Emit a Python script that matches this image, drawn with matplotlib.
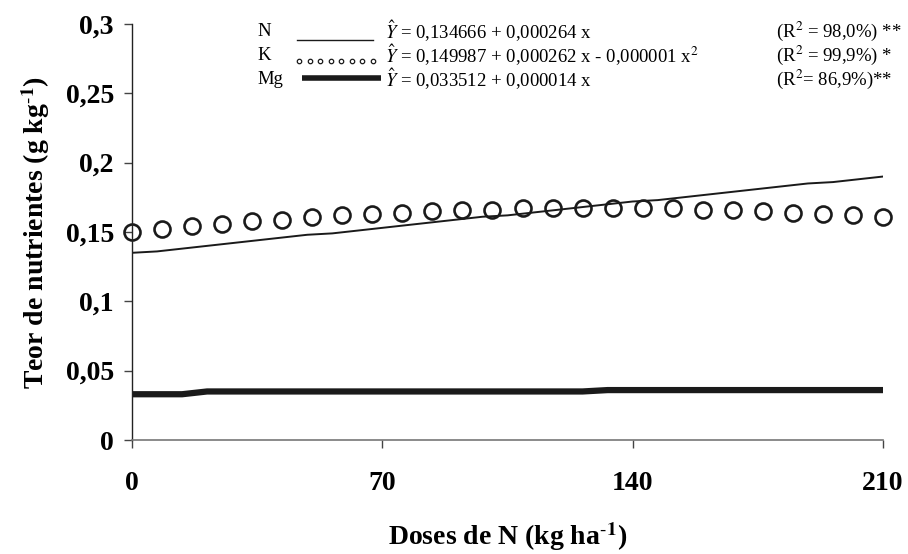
import matplotlib
matplotlib.use("Agg")
import matplotlib.pyplot as plt
from matplotlib.lines import Line2D

plt.rcParams['font.family'] = ['Liberation Serif', 'DejaVu Serif']
plt.rcParams['mathtext.fontset'] = 'stix'

# ---- data ----
n_x = [0, 7, 14, 21, 28, 35, 42, 49, 56, 63, 70, 77, 84, 91, 98, 105, 112, 119,
       126, 133, 140, 147, 154, 161, 168, 175, 182, 189, 196, 203, 210]
n_y = [0.135, 0.136, 0.138, 0.140, 0.142, 0.144, 0.146, 0.148, 0.149, 0.151, 0.153,
       0.155, 0.157, 0.159, 0.161, 0.162, 0.164, 0.166, 0.168, 0.170, 0.172, 0.173,
       0.175, 0.177, 0.179, 0.181, 0.183, 0.185, 0.186, 0.188, 0.190]

k_x = [0, 8.4, 16.8, 25.2, 33.6, 42, 50.4, 58.8, 67.2, 75.6, 84, 92.4, 100.8, 109.2,
       117.6, 126, 134.4, 142.8, 151.2, 159.6, 168, 176.4, 184.8, 193.2, 201.6, 210]
k_y = [0.150, 0.152, 0.154, 0.156, 0.158, 0.159, 0.161, 0.162, 0.163, 0.164, 0.165,
       0.166, 0.166, 0.167, 0.167, 0.167, 0.167, 0.167, 0.167, 0.166, 0.166, 0.165,
       0.164, 0.163, 0.162, 0.161]

mg_x = [0, 7, 14, 21, 28, 35, 42, 49, 56, 63, 70, 77, 84, 91, 98, 105, 112, 119,
        126, 133, 140, 147, 154, 161, 168, 175, 182, 189, 196, 203, 210]
mg_y = [0.033, 0.033, 0.033, 0.035, 0.035, 0.035, 0.035, 0.035, 0.035, 0.035, 0.035,
        0.035, 0.035, 0.035, 0.035, 0.035, 0.035, 0.035, 0.035, 0.036, 0.036, 0.036,
        0.036, 0.036, 0.036, 0.036, 0.036, 0.036, 0.036, 0.036, 0.036]

x_ticks = [0, 70, 140, 210]
x_ticklabels = ['0', '70', '140', '210']
y_ticks = [0, 0.05, 0.1, 0.15, 0.2, 0.25, 0.3]
y_ticklabels = ['0', '0,05', '0,1', '0,15', '0,2', '0,25', '0,3']

series_names = ['N', 'K', 'Mg']
equations = [r'$\hat{Y}$ = 0,134666 + 0,000264 x',
             r'$\hat{Y}$ = 0,149987 + 0,000262 x - 0,000001 x$^2$',
             r'$\hat{Y}$ = 0,033512 + 0,000014 x']
r2_texts = [r'(R$^2$ = 98,0%) **', r'(R$^2$ = 99,9%) *', r'(R$^2$= 86,9%)**']

xlabel = r'Doses de N (kg ha$^{\mathbf{\text{-}1}}$)'
ylabel = r'Teor de nutrientes (g kg$^{\mathbf{\text{-}1}}$)'

# ---- figure ----
W, H = 908, 554
fig = plt.figure(figsize=(W / 100, H / 100), dpi=100)
L, R, B, T = 132, 883, 440, 24
ax = fig.add_axes([L / W, 1 - B / H, (R - L) / W, (B - T) / H])

ink = '#1a1a1a'
ax.plot(n_x, n_y, color=ink, lw=1.4, solid_joinstyle='round')
ax.plot(k_x, k_y, linestyle='none', marker='o', markersize=11.5, markerfacecolor='none',
        markeredgecolor=ink, markeredgewidth=1.9, clip_on=False)
ax.plot(mg_x, mg_y, color=ink, lw=4.5, solid_capstyle='butt')

ax.set_xlim(0, 210)
ax.set_ylim(0, 0.3)
ax.spines['top'].set_visible(False)
ax.spines['right'].set_visible(False)
ax.spines['left'].set_color('#222222')
ax.spines['bottom'].set_color('#777777')
ax.spines['left'].set_linewidth(1.0)
ax.spines['bottom'].set_linewidth(1.2)
ax.set_xticks(x_ticks)
ax.set_xticklabels(x_ticklabels, fontsize=20, fontweight='bold')
ax.set_yticks(y_ticks)
ax.set_yticklabels(y_ticklabels, fontsize=20, fontweight='bold')
ax.tick_params(axis='x', direction='out', length=6, width=1.0, color='#444444', pad=16)
ax.tick_params(axis='y', direction='out', length=6, width=1.0, color='#444444', pad=7)

ax.set_xlabel(xlabel, fontsize=20, fontweight='bold', labelpad=18)
ax.set_ylabel(ylabel, fontsize=20, fontweight='bold', labelpad=10)

# ---- legend (figure pixel coordinates, origin top-left) ----
def fx(x):
    return x / W

def fy(y):
    return 1 - y / H

rows_y = [31, 55, 79]
name_x = 257
eq_x = 385
r2_x = 776
fs = 13.5
for i in range(3):
    fig.text(fx(name_x), fy(rows_y[i]), series_names[i], fontsize=fs, va='center', ha='left')
    fig.text(fx(eq_x), fy(rows_y[i]), equations[i], fontsize=fs, va='center', ha='left')
    fig.text(fx(r2_x), fy(rows_y[i]), r2_texts[i], fontsize=fs, va='center', ha='left')

fig.add_artist(Line2D([fx(297), fx(373)], [fy(40), fy(40)], color=ink, lw=1.0))
kx = [fx(299 + 10.5 * j) for j in range(8)]
fig.add_artist(Line2D(kx, [fy(61)] * 8, linestyle='none', marker='o', markersize=3.2,
                      markerfacecolor='none', markeredgecolor=ink, markeredgewidth=0.9))
fig.add_artist(Line2D([fx(302), fx(381)], [fy(78), fy(78)], color=ink, lw=4.0,
                      solid_capstyle='butt'))

fig.savefig('out.png', dpi=100)
